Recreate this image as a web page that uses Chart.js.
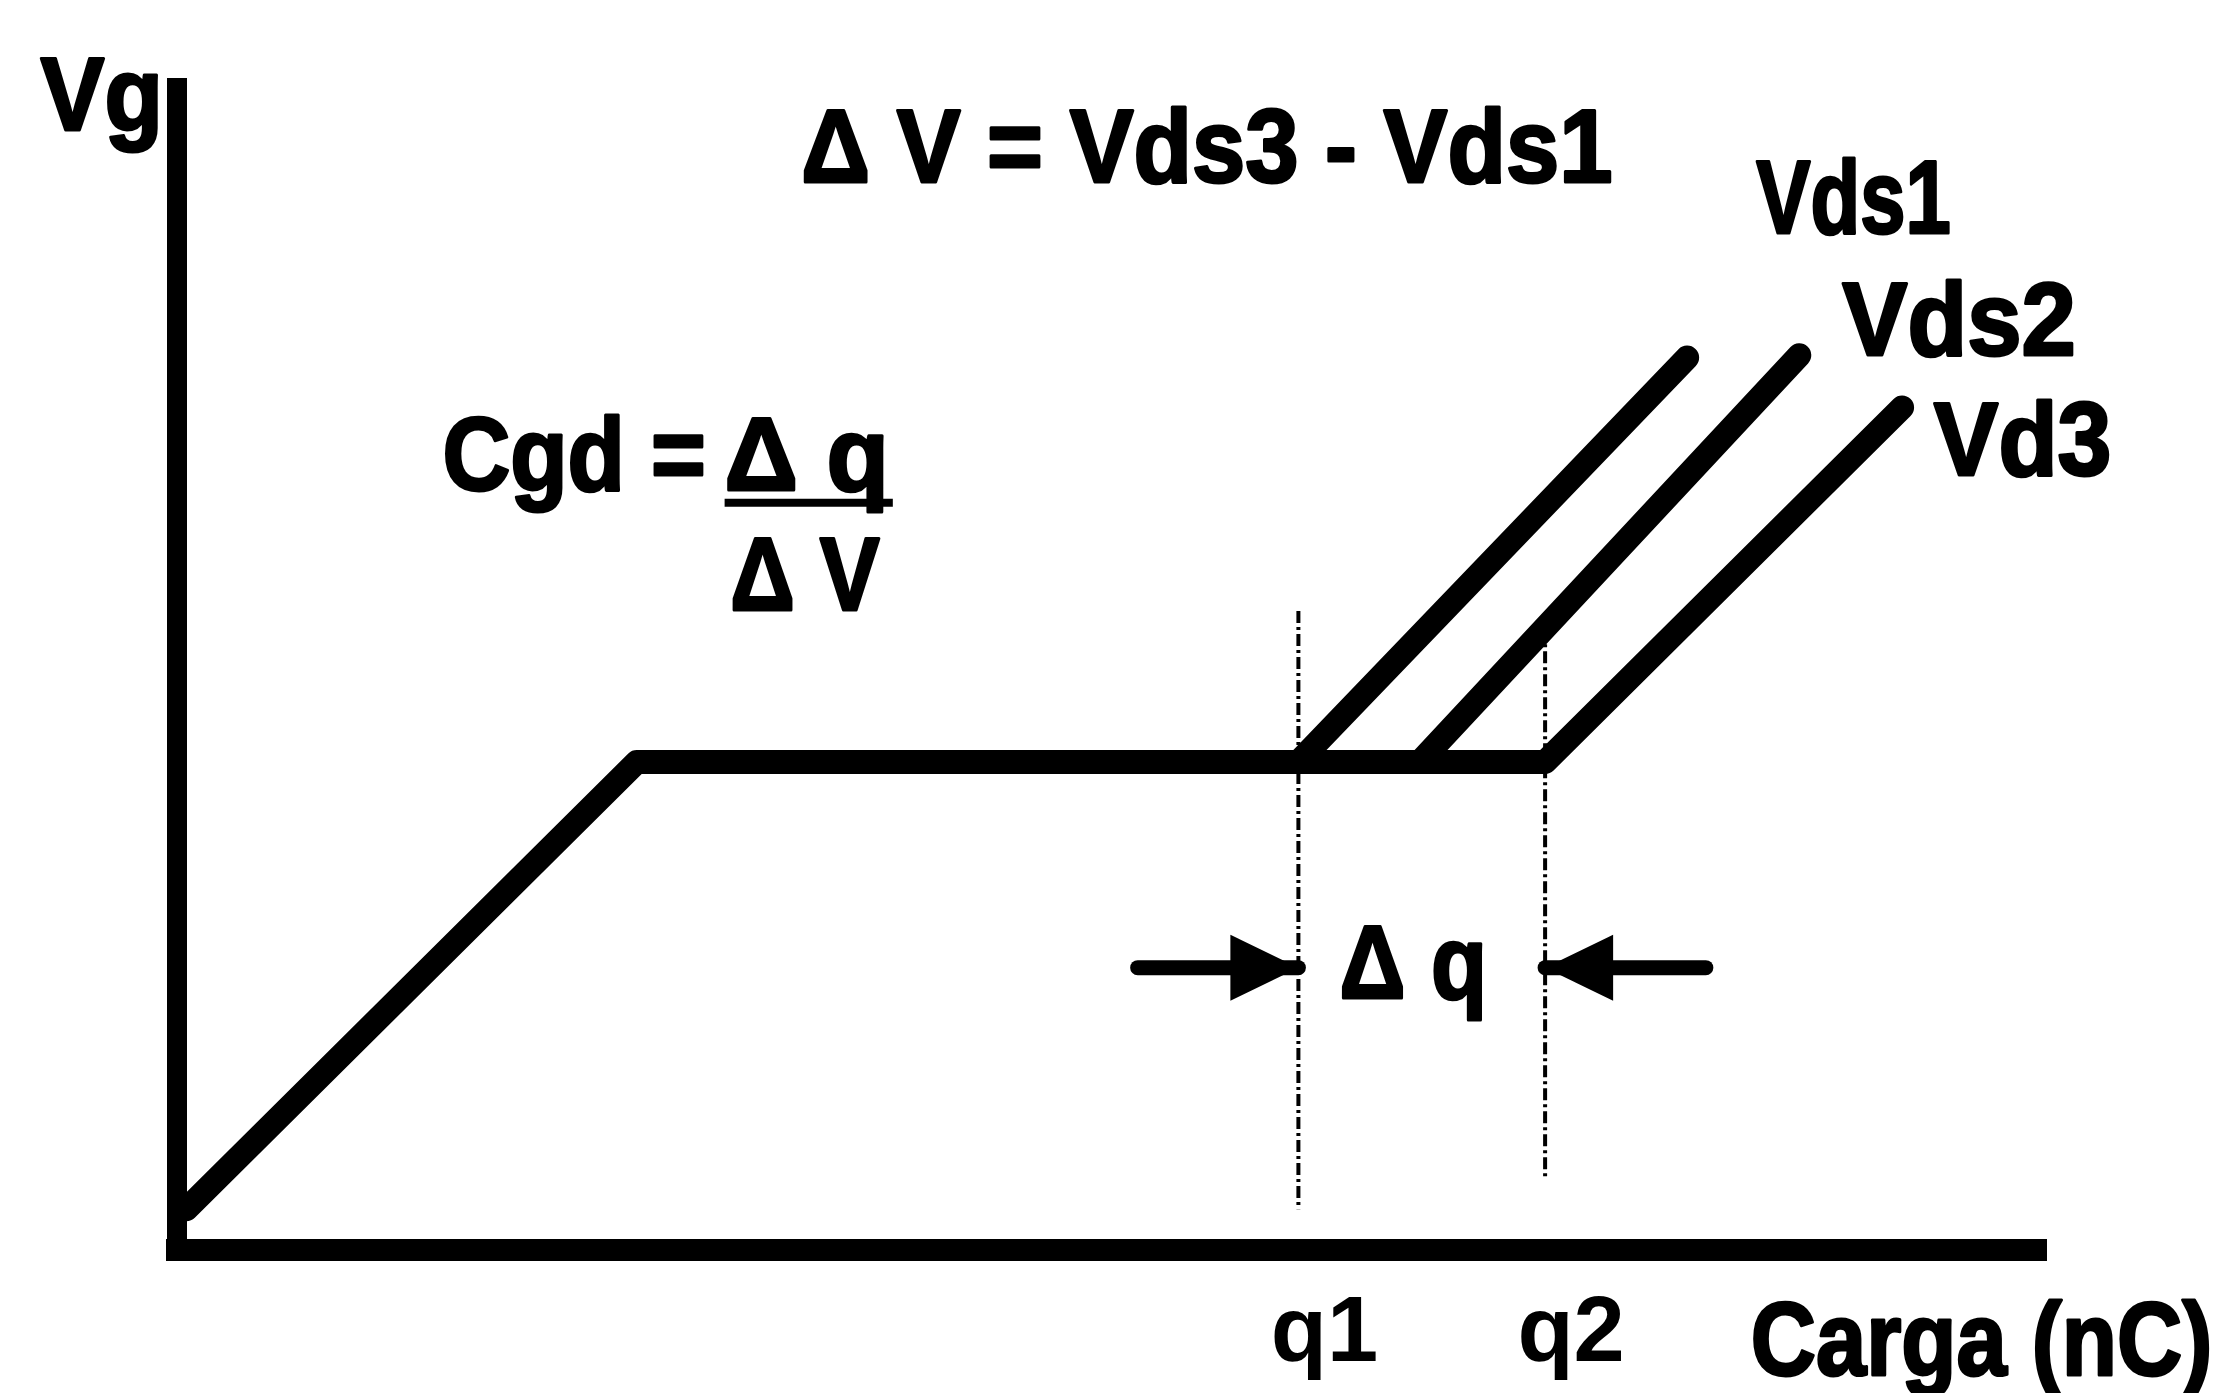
<!DOCTYPE html>
<html>
<head>
<meta charset="utf-8">
<script src="https://cdn.jsdelivr.net/npm/chart.js@4.4.1/dist/chart.umd.min.js"></script>
<style>
  html, body { margin: 0; padding: 0; background: #fff; }
  canvas { display: block; }
</style>
</head>
<body>
<canvas id="myChart" width="2222" height="1393"></canvas>
<script>
// gate charge curve (charge in arbitrary nC units, Vg in arbitrary units)
var gateQ = [0.5, 24.6, 73.2, 92.3];
var gateV = [3.5, 42, 42, 72.5];
var vds1Q = [60, 80.8];
var vds1V = [42, 76.8];
var vds2Q = [66.5, 86.8];
var vds2V = [42, 77];

// q1 / q2 markers
var markerQ = [60, 73.2];
var markerLabels = ['q1', 'q2'];
var markerTop = [55, 53.5];
var markerBottom = [3.5, 6];

// delta q arrows
var arrowLevel = 24.3;
var leftArrowQ = [51.4, 60];
var rightArrowQ = [81.8, 73.2];

function pts(xs, ys) {
    return xs.map(function (x, i) { return { x: x, y: ys[i] }; });
}

var FONT = 'bold 104px "Liberation Sans", Arial, sans-serif';

// draw bold text from px0 to px1 (horizontally fitted)
function label(ctx, text, px0, py, px1) {
    ctx.save();
    ctx.font = FONT;
    var w = ctx.measureText(text).width;
    var k = px1 ? (px1 - px0) / w : 0.86;
    ctx.translate(px0, py);
    ctx.scale(k, 1);
    ctx.fillStyle = '#000';
    ctx.strokeStyle = '#000';
    ctx.lineWidth = 3;
    ctx.lineJoin = 'round';
    ctx.textAlign = 'left';
    ctx.textBaseline = 'alphabetic';
    ctx.fillText(text, 0, 0);
    ctx.strokeText(text, 0, 0);
    ctx.restore();
}

function arrowHead(ctx, tx, ty, dir) {
    ctx.save();
    ctx.fillStyle = '#000';
    ctx.beginPath();
    ctx.moveTo(tx, ty);
    ctx.lineTo(tx - dir * 68, ty - 33);
    ctx.lineTo(tx - dir * 68, ty + 33);
    ctx.closePath();
    ctx.fill();
    ctx.restore();
}

var notes = {
    id: 'notes',
    afterDatasetsDraw: function (chart) {
        var ctx = chart.ctx;
        var xs = chart.scales.x, ys = chart.scales.y;
        var X = function (v) { return xs.getPixelForValue(v); };
        var Y = function (v) { return ys.getPixelForValue(v); };

        label(ctx, 'Vg', X(-7.3), Y(96.4), X(-0.75));
        label(ctx, 'Carga (nC)', X(84.2), Y(-10.8), X(108.9));

        label(ctx, 'Δ V = Vds3 - Vds1', X(33.4), Y(91.9), X(76.8));
        label(ctx, 'Vds1', X(84.5), Y(87.5), X(94.9));
        label(ctx, 'Vds2', X(89.1), Y(77), X(101.6));
        label(ctx, 'Vd3', X(94), Y(66.7), X(103.5));

        label(ctx, 'Cgd =', X(14.2), Y(65.4), X(28.3));
        label(ctx, 'Δ q', X(29.3), Y(65.4), X(38.1));
        ctx.save();
        ctx.strokeStyle = '#000';
        ctx.lineWidth = 8;
        ctx.beginPath();
        ctx.moveTo(X(29.3), Y(64.3));
        ctx.lineTo(X(38.3), Y(64.3));
        ctx.stroke();
        ctx.restore();
        label(ctx, 'Δ V', X(29.6), Y(55.1), X(37.6));

        label(ctx, 'Δ q', X(62.2), Y(21.7), X(70.1));
        arrowHead(ctx, X(leftArrowQ[1]), Y(arrowLevel), 1);
        arrowHead(ctx, X(rightArrowQ[1]), Y(arrowLevel), -1);
    }
};

var solid = {
    showLine: true,
    borderColor: '#000',
    borderWidth: 24,
    borderCapStyle: 'round',
    borderJoinStyle: 'round',
    pointRadius: 0,
    clip: false
};

var dotted = {
    showLine: true,
    borderColor: '#000',
    borderWidth: 4,
    borderDash: [12, 4, 3, 4],
    pointRadius: 0
};

var shaft = {
    showLine: true,
    borderColor: '#000',
    borderWidth: 15,
    borderCapStyle: 'round',
    pointRadius: 0
};

var ctx = document.getElementById('myChart').getContext('2d');
var myChart = new Chart(ctx, {
    type: 'scatter',
    data: {
        datasets: [
            Object.assign({ label: 'Vd3', data: pts(gateQ, gateV) }, solid),
            Object.assign({ label: 'Vds1', data: pts(vds1Q, vds1V) }, solid),
            Object.assign({ label: 'Vds2', data: pts(vds2Q, vds2V) }, solid),
            Object.assign({ label: 'q1', data: pts([markerQ[0], markerQ[0]], [markerTop[0], markerBottom[0]]) }, dotted),
            Object.assign({ label: 'q2', data: pts([markerQ[1], markerQ[1]], [markerTop[1], markerBottom[1]]) }, dotted),
            Object.assign({ label: 'arrow left', data: pts(leftArrowQ, [arrowLevel, arrowLevel]) }, shaft),
            Object.assign({ label: 'arrow right', data: pts(rightArrowQ, [arrowLevel, arrowLevel]) }, shaft)
        ]
    },
    options: {
        responsive: false,
        animation: false,
        layout: { padding: { left: 0, right: 176, top: 88, bottom: 0 } },
        plugins: {
            legend: { display: false },
            tooltip: { enabled: false }
        },
        scales: {
            x: {
                type: 'linear',
                min: 0,
                max: 100,
                grid: { display: false, drawTicks: false },
                border: { display: true, width: 22, color: '#000' },
                afterBuildTicks: function (s) {
                    s.ticks = markerQ.map(function (v) { return { value: v }; });
                },
                afterFit: function (s) { s.height = 143; },
                ticks: {
                    autoSkip: false,
                    maxRotation: 0,
                    color: '#000',
                    padding: 30,
                    labelOffset: 26,
                    font: { family: 'Liberation Sans', weight: 'bold', size: 92 },
                    callback: function (v, i) { return markerLabels[i]; }
                }
            },
            y: {
                type: 'linear',
                min: 0,
                max: 100,
                grid: { display: false, drawTicks: false },
                border: { display: true, width: 20, color: '#000' },
                ticks: { display: false },
                afterFit: function (s) { s.width = 177; }
            }
        }
    },
    plugins: [notes]
});
</script>
</body>
</html>
